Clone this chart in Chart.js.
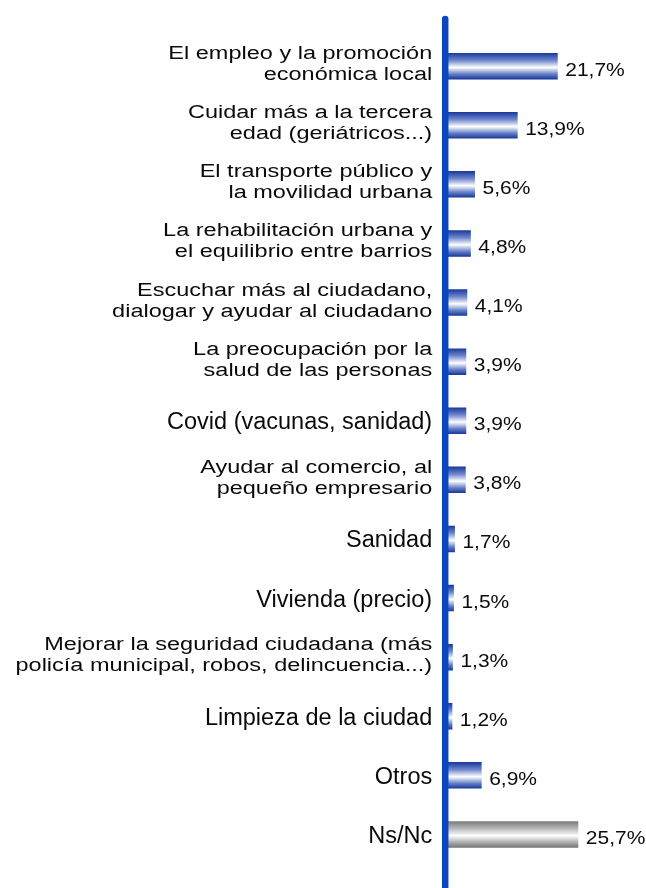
<!DOCTYPE html>
<html>
<head>
<meta charset="utf-8">
<script src="https://cdn.jsdelivr.net/npm/chart.js@4/dist/chart.umd.min.js"></script>
<style>
  html, body { margin: 0; padding: 0; background: #fff; }
  #wrap { width: 646px; height: 888px; position: relative; }
</style>
</head>
<body>
<div id="wrap"><canvas id="chart"></canvas></div>
<script>
const categories = [
  ['El empleo y la promoción', 'económica local'],
  ['Cuidar más a la tercera', 'edad (geriátricos...)'],
  ['El transporte público y', 'la movilidad urbana'],
  ['La rehabilitación urbana y', 'el equilibrio entre barrios'],
  ['Escuchar más al ciudadano,', 'dialogar y ayudar al ciudadano'],
  ['La preocupación por la', 'salud de las personas'],
  'Covid (vacunas, sanidad)',
  ['Ayudar al comercio, al', 'pequeño empresario'],
  'Sanidad',
  'Vivienda (precio)',
  ['Mejorar la seguridad ciudadana (más', 'policía municipal, robos, delincuencia...)'],
  'Limpieza de la ciudad',
  'Otros',
  'Ns/Nc'
]
const values = [21.7, 13.9, 5.6, 4.8, 4.1, 3.9, 3.9, 3.8, 1.7, 1.5, 1.3, 1.2, 6.9, 25.7]
const valueLabels = ['21,7%', '13,9%', '5,6%', '4,8%', '4,1%', '3,9%', '3,9%', '3,8%', '1,7%', '1,5%', '1,3%', '1,2%', '6,9%', '25,7%']
const grayIndex = 13

const barShare = 0.448
const fontFamily = '"Liberation Sans", Arial, sans-serif'

// degradado vertical de cada barra
const barGradient = ctx => {
  const chart = ctx.chart
  const area = chart.chartArea
  const gray = ctx.dataIndex === grayIndex
  if (!area) return gray ? '#999' : '#2a4aa8'
  const y = chart.scales.y.getPixelForValue(ctx.dataIndex)
  const h = area.height / categories.length * barShare
  const g = chart.ctx.createLinearGradient(0, y - h / 2, 0, y + h / 2)
  if (gray) {
    g.addColorStop(0, '#7a7a7a')
    g.addColorStop(0.28, '#b8b8b8')
    g.addColorStop(0.55, '#ffffff')
    g.addColorStop(0.8, '#ababab')
    g.addColorStop(1, '#747474')
  } else {
    g.addColorStop(0, '#18379a')
    g.addColorStop(0.28, '#6d86cb')
    g.addColorStop(0.55, '#ffffff')
    g.addColorStop(0.8, '#6580c6')
    g.addColorStop(1, '#163598')
  }
  return g
}

// etiquetas de categoría (las de dos líneas van algo aplastadas, como en el original)
const categoryText = {
  id: 'categoryText',
  afterDraw(chart) {
    const c = chart.ctx
    const yScale = chart.scales.y
    const right = chart.chartArea.left - 14
    c.save()
    c.fillStyle = '#0a0a0a'
    c.textAlign = 'right'
    c.textBaseline = 'alphabetic'
    c.font = '23.5px ' + fontFamily
    categories.forEach((label, i) => {
      const yc = yScale.getPixelForValue(i)
      if (Array.isArray(label)) {
        const bases = [yc - 7, yc + 14]
        label.forEach((line, k) => {
          c.save()
          c.translate(right, bases[k])
          c.scale(1, 0.8)
          c.fillText(line, 0, 0)
          c.restore()
        })
      } else {
        c.fillText(label, right, yc + 8.5)
      }
    })
    c.restore()
  }
}

const axisLine = {
  id: 'axisLine',
  afterDatasetsDraw(chart) {
    const c = chart.ctx
    const x = chart.chartArea.left - 1
    c.save()
    c.strokeStyle = '#0b46c0'
    c.lineWidth = 6.5
    c.lineCap = 'round'
    c.beginPath()
    c.moveTo(x, 19)
    c.lineTo(x, chart.height + 5)
    c.stroke()
    c.restore()
  }
}

const valueText = {
  id: 'valueText',
  afterDatasetsDraw(chart) {
    const c = chart.ctx
    const meta = chart.getDatasetMeta(0)
    c.save()
    c.font = '21px ' + fontFamily
    c.fillStyle = '#0a0a0a'
    c.textAlign = 'left'
    c.textBaseline = 'alphabetic'
    meta.data.forEach((bar, i) => {
      c.save()
      c.translate(bar.x + 7.5, bar.y + 9.5)
      c.scale(1, 0.84)
      c.fillText(valueLabels[i], 0, 0)
      c.restore()
    })
    c.restore()
  }
}

new Chart('chart', {
  type: 'bar',
  data: {
    labels: categories,
    datasets: [{
      data: values,
      backgroundColor: barGradient,
      borderWidth: 0,
      categoryPercentage: 1,
      barPercentage: barShare
    }]
  },
  options: {
    indexAxis: 'y',
    responsive: true,
    maintainAspectRatio: false,
    animation: false,
    layout: { padding: { top: 36.6, bottom: 24, left: 0, right: 1.9 } },
    plugins: {
      legend: { display: false },
      tooltip: { enabled: false }
    },
    scales: {
      x: { display: false, min: 0, max: 38.5 },
      y: {
        afterFit: s => { s.width = 446.2 },
        grid: { display: false, drawTicks: false },
        border: { display: false },
        ticks: { display: false }
      }
    }
  },
  plugins: [axisLine, valueText, categoryText]
})
</script>
</body>
</html>
